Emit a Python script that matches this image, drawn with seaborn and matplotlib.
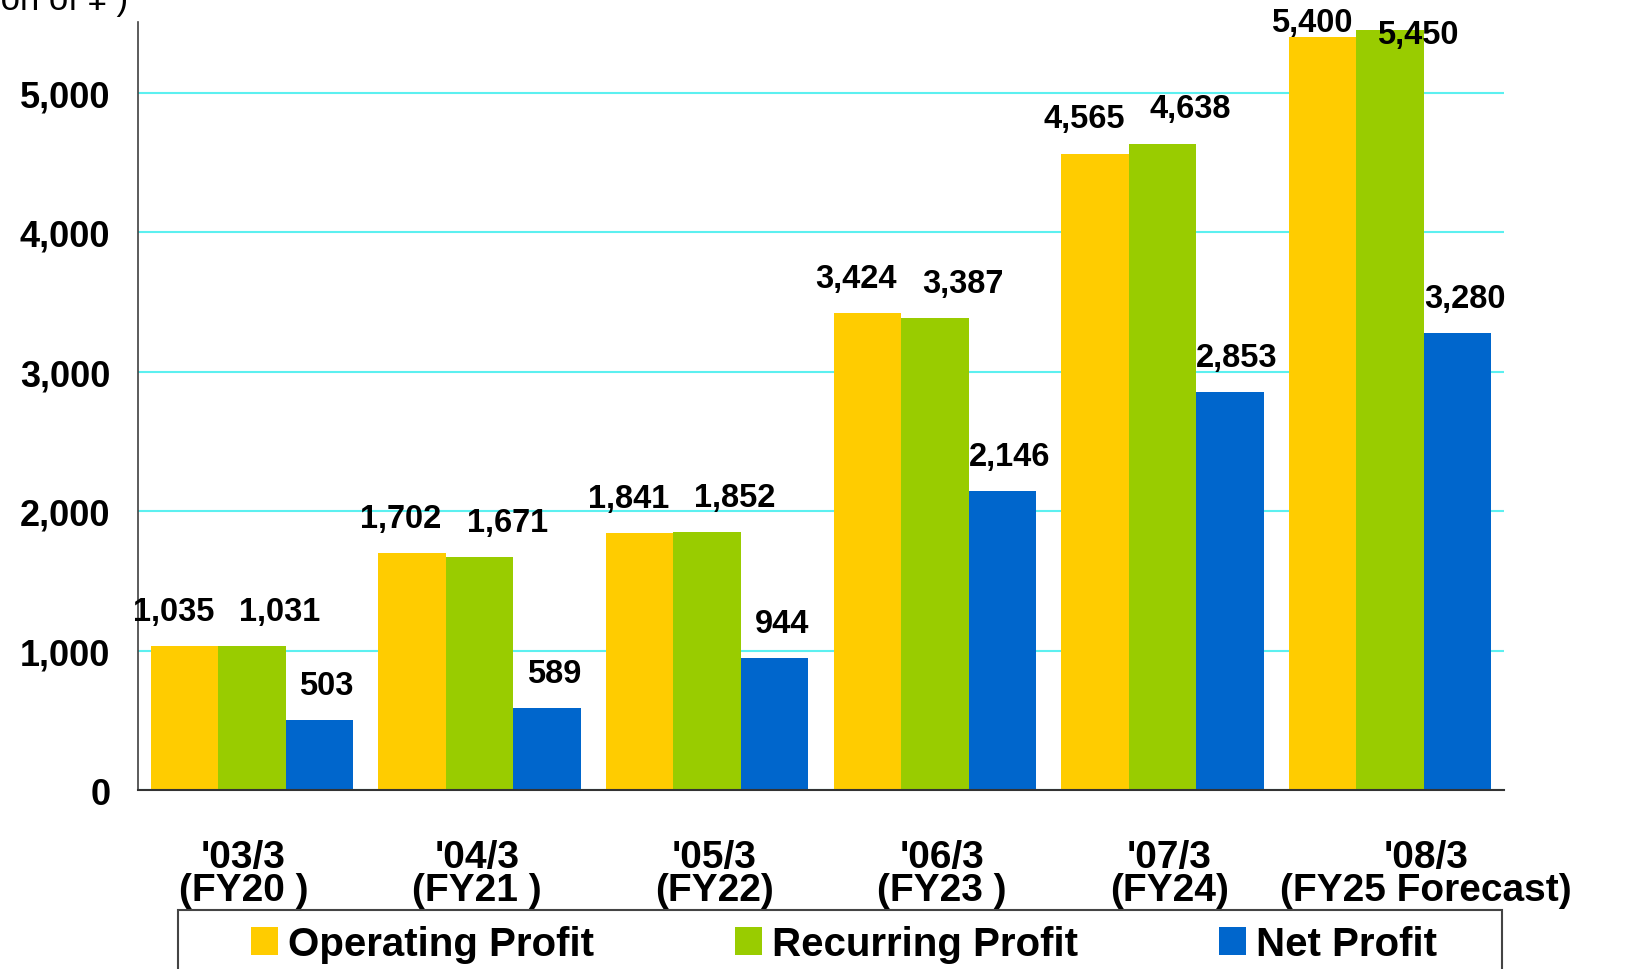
import matplotlib
matplotlib.use('Agg')
import matplotlib.pyplot as plt
import matplotlib.patches as mpatches
import seaborn as sns
import pandas as pd
import numpy as np

# chart data
periods = ["'03/3", "'04/3", "'05/3", "'06/3", "'07/3", "'08/3"]
fiscal_years = ['(FY20 )', '(FY21 )', '(FY22)', '(FY23 )', '(FY24)', '(FY25 Forecast)']
series = ['Operating Profit', 'Recurring Profit', 'Net Profit']
operating = [1035, 1702, 1841, 3424, 4565, 5400]
recurring = [1031, 1671, 1852, 3387, 4638, 5450]
net = [503, 589, 944, 2146, 2853, 3280]
yticks = [0, 1000, 2000, 3000, 4000, 5000]
unit_label = '(Million of ¥ )'

colors = ['#FFCC00', '#99CC00', '#0066CC']

sns.set_style('white')
plt.rcParams['font.family'] = ['Liberation Sans', 'DejaVu Sans']
plt.rcParams['text.color'] = 'black'
plt.rcParams['xtick.labelcolor'] = 'black'
plt.rcParams['ytick.labelcolor'] = 'black'

df = pd.DataFrame({
    'period': periods * 3,
    'series': np.repeat(series, len(periods)),
    'value': operating + recurring + net,
})

fig = plt.figure(figsize=(16.28, 9.70), dpi=100)
ax = fig.add_axes([0.0848, 0.1845, 0.8390, 0.7918])

sns.barplot(data=df, x='period', y='value', hue='series', hue_order=series,
            palette=colors, width=0.89, saturation=1, legend=False,
            linewidth=0, ax=ax)

ax.set_xlim(-0.5, 5.5)
ax.set_ylim(0, 5510)
ax.set_xlabel('')
ax.set_ylabel('')

# y axis
ax.set_yticks(yticks)
ax.set_yticklabels([f'{v:,}' for v in yticks], fontsize=26, fontweight='bold')
ax.tick_params(axis='y', direction='in', length=9.5, width=1, color='black', pad=20)
ax.yaxis.grid(True, color='#5CF0F0', linewidth=1.5)
ax.set_axisbelow(True)

# x axis: group separators as inward minor ticks, labels drawn below
ax.set_xticks(range(len(periods)))
ax.set_xticklabels([])
ax.set_xticks(np.arange(-0.5, len(periods), 1), minor=True)
ax.tick_params(axis='x', which='major', length=0)
ax.tick_params(axis='x', which='minor', direction='in', length=9.5, width=1.2, color='#444444')

for side in ['top', 'right']:
    ax.spines[side].set_visible(False)
ax.spines['left'].set_color('#404040')
ax.spines['bottom'].set_color('#333333')
ax.spines['left'].set_linewidth(1.2)
ax.spines['bottom'].set_linewidth(1.5)

# two-line category labels
label_shift = [-6, -2, 5, 5, 5, 26]
for j, (p, fy) in enumerate(zip(periods, fiscal_years)):
    ax.annotate(f'{p}\n{fy}', xy=(j, 0), xycoords=('data', 'axes fraction'),
                xytext=(label_shift[j], -60), textcoords='offset points',
                ha='center', va='center', multialignment='center',
                linespacing=0.9, fontsize=28, fontweight='bold',
                annotation_clip=False)

# value labels
dx = [-8, 20, 5]
top_dy = {(0, 5): 11, (1, 5): -3}
for i, cont in enumerate(ax.containers):
    for j, bar in enumerate(cont):
        v = bar.get_height()
        dy = top_dy.get((i, j), 25)
        ax.annotate(f'{int(round(v)):,}', xy=(bar.get_x() + bar.get_width() / 2, v),
                    xytext=(dx[i], dy), textcoords='offset points',
                    ha='center', va='center', fontsize=23.5, fontweight='bold',
                    annotation_clip=False)

# unit label, cut off at the top edge as in the original
fig.text(128 / 1628, 1 - 10 / 970, unit_label, ha='right', va='baseline', fontsize=25)

# legend in a box running off the bottom
frame = mpatches.Rectangle((178 / 1628, -0.02), 1324 / 1628, 59 / 970 + 0.02,
                           transform=fig.transFigure, fill=False,
                           edgecolor='#444444', linewidth=1.5, clip_on=False)
fig.add_artist(frame)
handles = [mpatches.Patch(facecolor=c, edgecolor='none') for c in colors]
fig.legend(handles, series, loc='center left', bbox_to_anchor=(251 / 1628, 1 - 945 / 970),
           ncol=3, frameon=False, borderaxespad=0, borderpad=0,
           prop={'size': 29, 'weight': 'bold'},
           handlelength=0.67, handleheight=0.67, handletextpad=0.25, columnspacing=3.5)

fig.savefig('out.png', dpi=100)
